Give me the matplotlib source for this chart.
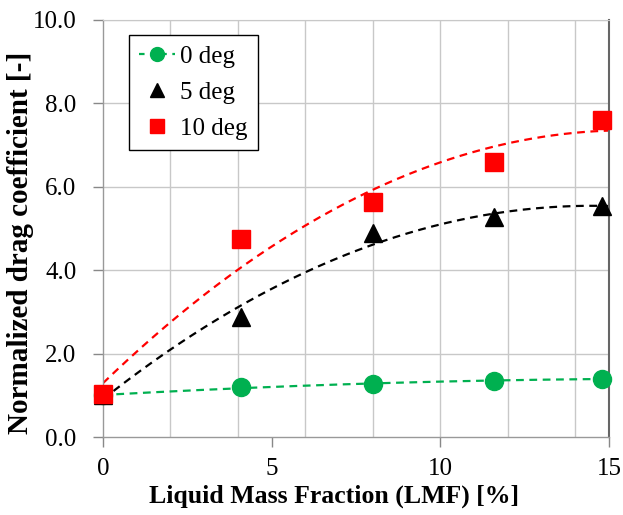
import numpy as np
import matplotlib
matplotlib.use("Agg")
import matplotlib.pyplot as plt
from matplotlib.lines import Line2D

plt.rcParams['font.family'] = ['Liberation Serif', 'DejaVu Serif']

lmf = [0.0, 4.1, 8.0, 11.6, 14.8]
cd_0deg = [1.0, 1.19, 1.28, 1.34, 1.40]
cd_5deg = [1.0, 2.87, 4.90, 5.28, 5.53]
cd_10deg = [1.02, 4.74, 5.64, 6.60, 7.60]
labels = ["0 deg", "5 deg", "10 deg"]
colors = ["#00B050", "black", "#FF0000"]
xticks = [0, 5, 10, 15]
yticks = [0, 2, 4, 6, 8, 10]

fig = plt.figure(figsize=(6.23, 5.15), dpi=100)
ax = fig.add_axes([103/623, 1-437/515, 506/623, 417/515])

xs = np.linspace(0, 15, 200)
for ys, c in zip([cd_0deg, cd_5deg, cd_10deg], colors):
    p = np.polyfit(lmf, ys, 2)
    ax.plot(xs, np.polyval(p, xs), ls=(0, (3.5, 2.5)), color=c, lw=1.6, zorder=2)

ax.plot(lmf, cd_0deg, 'o', color=colors[0], ms=13, mec=colors[0], zorder=3, clip_on=False)
ax.plot(lmf, cd_5deg, '^', color=colors[1], ms=12.5, zorder=3, clip_on=False)
ax.plot(lmf, cd_10deg, 's', color=colors[2], ms=12.5, mec=colors[2], zorder=3, clip_on=False)

ax.set_xlim(0, 15)
ax.set_ylim(0, 10)
ax.set_xticks(xticks)
ax.set_xticklabels([str(v) for v in xticks])
ax.set_yticks(yticks)
ax.set_yticklabels([f"{v:.1f}" for v in yticks])
for x in np.arange(2, 15, 2):
    ax.axvline(x, color='#C8C8C8', lw=1.0, zorder=0)
for y in yticks[1:]:
    ax.axhline(y, color='#C8C8C8', lw=1.0, zorder=0)

ax.tick_params(axis='both', which='major', direction='out', length=7, width=1,
               color='#888888', labelsize=18)
ax.tick_params(axis='y', pad=12)
ax.tick_params(axis='x', pad=8)
for s in ['left', 'bottom']:
    ax.spines[s].set_color('#999999')
    ax.spines[s].set_linewidth(1.0)
ax.spines['top'].set_color('#C8C8C8')
ax.spines['right'].set_color('#666666')
ax.spines['right'].set_linewidth(1.5)

fig.text(334/623, 1-496/515, "Liquid Mass Fraction (LMF) [%]", fontsize=18.5,
         fontweight='bold', ha='center', va='center')
fig.text(21/623, 1-243/515, "Normalized drag coefficient [-]", fontsize=21,
         fontweight='bold', ha='center', va='center', rotation=90)

handles = [
    Line2D([], [], color=colors[0], marker='o', ms=10, ls=(0, (2.5, 2.5)), lw=1.6),
    Line2D([], [], color=colors[1], marker='^', ms=10.5, ls='none'),
    Line2D([], [], color=colors[2], marker='s', ms=10.5, ls='none'),
]
leg = ax.legend(handles, labels, loc='upper left', bbox_to_anchor=(26/506, 1-15/417),
                borderaxespad=0, fontsize=18, frameon=True, fancybox=False, framealpha=1,
                edgecolor='black', handlelength=1.45, handletextpad=0.2,
                borderpad=0.4, labelspacing=0.55)
leg.get_frame().set_linewidth(1.0)

fig.savefig("out.png", dpi=100)
